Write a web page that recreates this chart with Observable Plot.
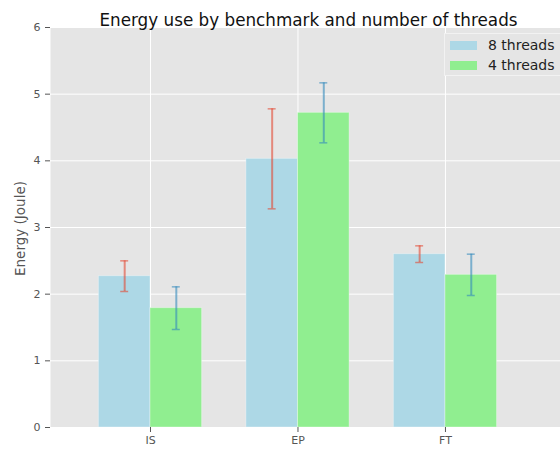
<!DOCTYPE html>
<html>
<head>
<meta charset="utf-8">
<script src="https://cdn.jsdelivr.net/npm/d3@7"></script>
<script src="https://cdn.jsdelivr.net/npm/@observablehq/plot@0.6"></script>
<style>
  html, body { margin: 0; padding: 0; background: white; }
  #wrap { position: relative; width: 560px; height: 451px; overflow: hidden; font-family: "DejaVu Sans", sans-serif; }
  #legend { position: absolute; left: 444px; top: 33px; width: 130px; height: 43px; background: #e5e5e5; border: 1px solid #f2f2f2; box-sizing: border-box; }
  .item { position: absolute; left: 5px; height: 14px; display: flex; align-items: center; font-size: 14px; color: #222; white-space: nowrap; }
  .swatch { width: 27px; height: 9px; margin-right: 11px; }
</style>
</head>
<body>
<div id="wrap"></div>
<script>
const title = "Energy use by benchmark and number of threads";
const yLabel = "Energy (Joule)";
const categories = ["IS", "EP", "FT"];
const seriesNames = ["8 threads", "4 threads"];
const energy8 = [2.27, 4.03, 2.60];
const err8 = [0.23, 0.75, 0.125];
const energy4 = [1.79, 4.72, 2.29];
const err4 = [0.32, 0.45, 0.31];
const barColors = ["#add8e6", "#90ee90"];
const errColors = ["#E24A33", "#348ABD"];
const yTicks = [0, 1, 2, 3, 4, 5, 6];
const barWidth = 0.35;

const series = [energy8, energy4];
const errs = [err8, err4];
const rows = [];
categories.forEach((c, i) => {
  series.forEach((vals, s) => {
    const x1 = i + s * barWidth;
    rows.push({cat: c, s, x1, x2: x1 + barWidth, xc: x1 + barWidth / 2,
      value: vals[i], lo: vals[i] - errs[s][i], hi: vals[i] + errs[s][i]});
  });
});
const tickPos = categories.map((c, i) => i + barWidth);
const capHalf = 0.027;

const marks = [
  Plot.frame({fill: "#e5e5e5"}),
  Plot.gridY(yTicks, {stroke: "white", strokeOpacity: 1, strokeWidth: 1}),
  Plot.gridX(tickPos, {stroke: "white", strokeOpacity: 1, strokeWidth: 1}),
];
seriesNames.forEach((name, s) => {
  const d = rows.filter(r => r.s === s);
  marks.push(Plot.rectY(d, {x1: "x1", x2: "x2", y1: 0, y2: "value", fill: barColors[s], stroke: "white", strokeOpacity: 0.35, strokeWidth: 1, insetLeft: 0, insetRight: 0}));
});
seriesNames.forEach((name, s) => {
  const d = rows.filter(r => r.s === s);
  marks.push(Plot.ruleX(d, {x: "xc", y1: "lo", y2: "hi", stroke: errColors[s], strokeOpacity: 0.6, strokeWidth: 2}));
  marks.push(Plot.ruleY(d, {y: "lo", x1: r => r.xc - capHalf, x2: r => r.xc + capHalf, stroke: errColors[s], strokeOpacity: 0.6, strokeWidth: 1.5}));
  marks.push(Plot.ruleY(d, {y: "hi", x1: r => r.xc - capHalf, x2: r => r.xc + capHalf, stroke: errColors[s], strokeOpacity: 0.6, strokeWidth: 1.5}));
});
marks.push(
  Plot.axisY(yTicks, {tickSize: 5, tickPadding: 5, fontSize: 11, color: "#555", tickFormat: d => String(d)}),
  Plot.axisX(tickPos, {tickSize: 5, tickPadding: 4, fontSize: 11, color: "#555", tickFormat: d => categories[Math.round(d - barWidth)]}),
  Plot.text([title], {frameAnchor: "top", dy: -13, dx: 3, fontSize: 16.8, fill: "#111"}),
  Plot.text([yLabel], {frameAnchor: "left", textAnchor: "middle", rotate: -90, dx: -30, dy: 1, fontSize: 13.5, fill: "#555"})
);

const chart = Plot.plot({
  width: 560, height: 451,
  marginLeft: 50, marginRight: 0, marginTop: 27, marginBottom: 24,
  x: {domain: [-0.328, 3.13], axis: null},
  y: {domain: [0, 6], axis: null},
  style: {fontFamily: "DejaVu Sans, sans-serif", background: "white", overflow: "visible"},
  marks
});
const wrap = document.getElementById("wrap");
wrap.appendChild(chart);

const legend = document.createElement("div");
legend.id = "legend";
seriesNames.forEach((name, s) => {
  const item = document.createElement("div");
  item.className = "item";
  item.style.top = (4 + s * 20) + "px";
  const sw = document.createElement("span");
  sw.className = "swatch";
  sw.style.background = barColors[s];
  const t = document.createElement("span");
  t.textContent = name;
  item.appendChild(sw);
  item.appendChild(t);
  legend.appendChild(item);
});
wrap.appendChild(legend);
</script>
</body>
</html>
